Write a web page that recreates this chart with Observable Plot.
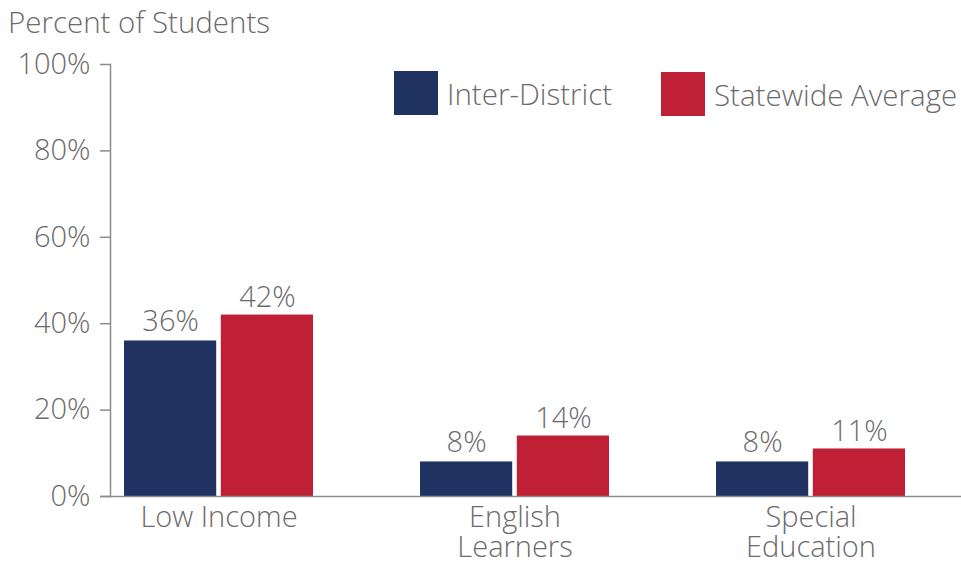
<!DOCTYPE html>
<html>
<head>
<meta charset="utf-8">
<script src="https://cdn.jsdelivr.net/npm/d3@7"></script>
<script src="https://cdn.jsdelivr.net/npm/@observablehq/plot@0.6"></script>
<style>
  html, body { margin: 0; padding: 0; background: #fff; }
  body { font-family: "Open Sans", sans-serif; font-weight: 300; color: #6b6b6b; }
  #wrap { position: relative; width: 961px; height: 562px; overflow: hidden; }
  #title { position: absolute; left: 8px; top: 7px; font-size: 29.5px; line-height: 29px; white-space: nowrap; }
  #chart { position: absolute; left: 0; top: 40px; }
  .lg { position: absolute; display: flex; align-items: center; font-size: 29.5px; white-space: nowrap; }
  .sw { width: 44px; height: 44px; display: inline-block; margin-right: 9px; }
</style>
</head>
<body>
<div id="wrap">
  <div id="title">Percent of Students</div>
  <div id="chart"></div>
  <div id="legend"></div>
</div>
<script>
const categories = ["Low Income", "English\nLearners", "Special\nEducation"];
const series = ["Inter-District", "Statewide Average"];
const interDistrict = [36, 8, 8];
const statewide = [42, 14, 11];
const yTicks = [0, 20, 40, 60, 80, 100];
const colors = ["#203262", "#c02035"];

const rows = [];
categories.forEach((c, i) => {
  rows.push({category: c, series: series[0], value: interDistrict[i]});
  rows.push({category: c, series: series[1], value: statewide[i]});
});

const W = 961, H = 522;
const mL = 110, mR = 0, insetR = 42;
const padInner = 0.36, padOuter = 0.044;
const rangeW = W - mL - mR - insetR;
const step = rangeW / (categories.length - padInner + 2 * padOuter);
const bw = step * (1 - padInner);
const barW = 93;
const gray = "#6b6b6b";
const axisGray = "#8c8c8c";
const font = "Open Sans";
const fs = 29;

const inter = rows.filter(d => d.series === series[0]);
const state = rows.filter(d => d.series === series[1]);

const plot = Plot.plot({
  width: W,
  height: H,
  marginLeft: mL,
  marginRight: mR,
  marginTop: 24,
  marginBottom: 66,
  style: {fontFamily: font, fontWeight: 300, color: gray, background: "white"},
  x: {domain: categories, paddingInner: padInner, paddingOuter: padOuter, insetRight: insetR, axis: null},
  y: {domain: [0, 100], axis: null},
  color: {domain: series, range: colors},
  marks: [
    Plot.barY(inter, {x: "category", y: "value", fill: "series", insetRight: bw - barW}),
    Plot.barY(state, {x: "category", y: "value", fill: "series", insetLeft: bw - barW}),
    Plot.text(inter, {x: "category", y: "value", text: d => d.value + "%", dx: -(bw - barW) / 2, lineAnchor: "bottom", dy: -10, fontSize: fs, fill: gray}),
    Plot.text(state, {x: "category", y: "value", text: d => d.value + "%", dx: (bw - barW) / 2, lineAnchor: "bottom", dy: -8, fontSize: fs, fill: gray}),
    Plot.frame({anchor: "left", stroke: axisGray, strokeWidth: 1.5}),
    Plot.ruleY([0], {stroke: axisGray, strokeWidth: 1.5, insetLeft: -10}),
    Plot.axisY({ticks: yTicks, tickFormat: d => d + "%", tickSize: 10, tickPadding: 10, fontSize: fs, stroke: axisGray, strokeWidth: 1.5, fill: gray, label: null}),
    Plot.text(categories, {x: d => d, frameAnchor: "bottom", lineAnchor: "top", dy: 9, fontSize: fs, lineHeight: 1.03, fill: gray})
  ]
});
document.getElementById("chart").appendChild(plot);

// legend
const legendPos = [{left: 394, top: 71}, {left: 661, top: 72}];
const lg = document.getElementById("legend");
series.forEach((s, i) => {
  const el = document.createElement("div");
  el.className = "lg";
  el.style.left = legendPos[i].left + "px";
  el.style.top = legendPos[i].top + "px";
  const sw = document.createElement("span");
  sw.className = "sw";
  sw.style.background = colors[i];
  const t = document.createElement("span");
  t.textContent = s;
  el.appendChild(sw);
  el.appendChild(t);
  lg.appendChild(el);
});
</script>
</body>
</html>
